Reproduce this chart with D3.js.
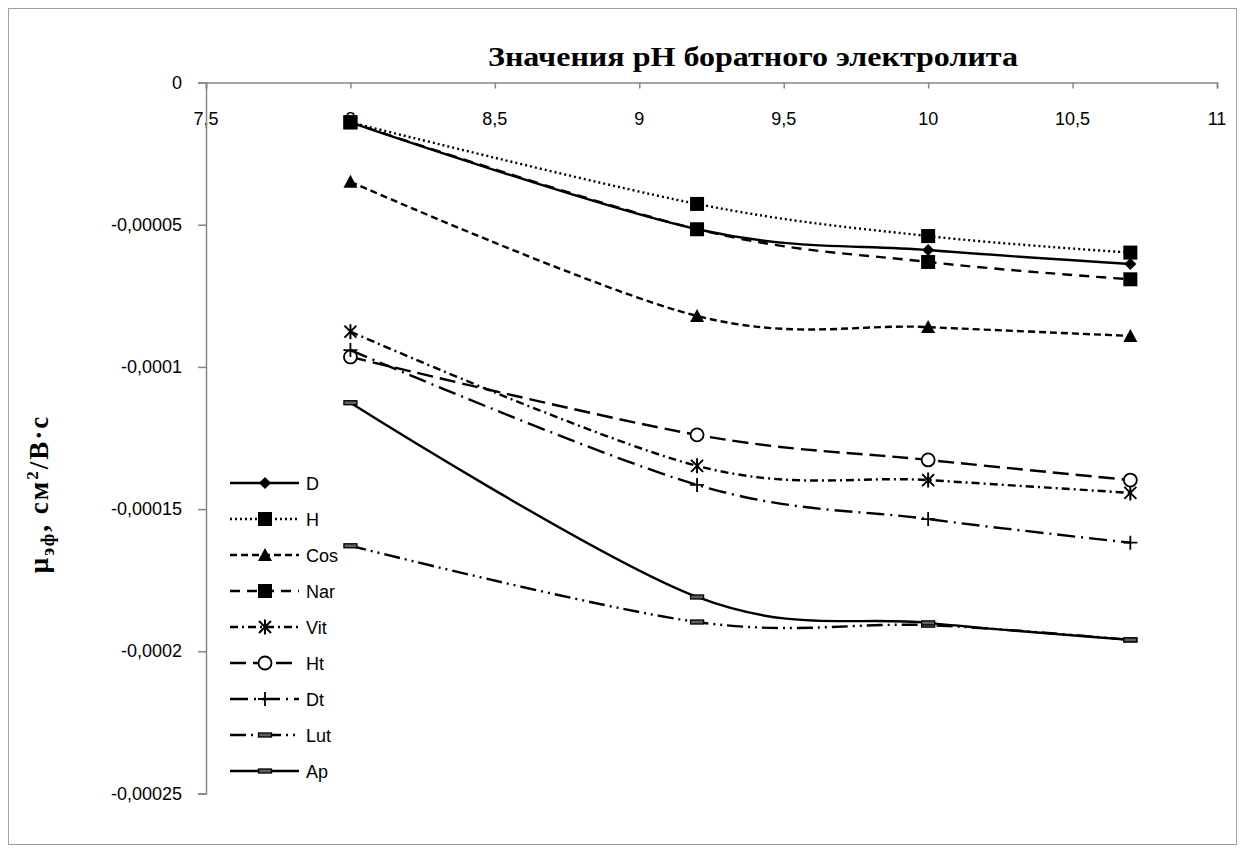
<!DOCTYPE html>
<html><head><meta charset="utf-8">
<script src="https://cdn.jsdelivr.net/npm/d3@7"></script>
<style>body{margin:0;background:#fff}svg{display:block}</style>
</head><body>
<script>
const xValues = [8, 9.2, 10, 10.7];
const seriesNames = ["D","H","Cos","Nar","Vit","Ht","Dt","Lut","Ap"];
const D   = [-1.40e-5, -5.16e-5, -5.89e-5, -6.38e-5];
const H   = [-1.40e-5, -4.27e-5, -5.40e-5, -5.98e-5];
const Cos = [-3.49e-5, -8.21e-5, -8.60e-5, -8.91e-5];
const Nar = [-1.40e-5, -5.16e-5, -6.31e-5, -6.92e-5];
const Vit = [-8.76e-5, -1.348e-4, -1.398e-4, -1.443e-4];
const Ht  = [-9.65e-5, -1.239e-4, -1.327e-4, -1.398e-4];
const Dt  = [-9.41e-5, -1.415e-4, -1.535e-4, -1.618e-4];
const Lut = [-1.629e-4, -1.897e-4, -1.908e-4, -1.960e-4];
const Ap  = [-1.126e-4, -1.809e-4, -1.900e-4, -1.960e-4];
const xTicks = [7.5, 8, 8.5, 9, 9.5, 10, 10.5, 11];
const yTicks = [0, -0.00005, -0.0001, -0.00015, -0.0002, -0.00025];
const yTickLabels = ["0","-0,00005","-0,0001","-0,00015","-0,0002","-0,00025"];
const titleText = "Значения рН боратного электролита";

const values = [D,H,Cos,Nar,Vit,Ht,Dt,Lut,Ap];
const styles = {
  D:{dash:null, marker:"diamond"},
  H:{dash:"2,3", marker:"square"},
  Cos:{dash:"7,4", marker:"triangle"},
  Nar:{dash:"10,7", marker:"square"},
  Vit:{dash:"8,4,2,4", marker:"asterisk"},
  Ht:{dash:"16,7", marker:"circle"},
  Dt:{dash:"18,6,2,6", marker:"plus"},
  Lut:{dash:"16,5,2,5,2,5", marker:"dash"},
  Ap:{dash:null, marker:"dash"}
};

const W=1244, H0=853;
const svg = d3.select("body").append("svg").attr("width",W).attr("height",H0);
svg.append("rect").attr("x",8.5).attr("y",8.5).attr("width",1228).attr("height",836)
  .attr("fill","#fff").attr("stroke","#a0a0a0").attr("stroke-width",1);

const x = d3.scaleLinear().domain([7.5,11]).range([206,1217]);
const y = d3.scaleLinear().domain([0,-0.00025]).range([82.5,793.5]);

const axisColor="#868686";
const gx = svg.append("g").attr("transform",`translate(0,${y(0)})`)
  .call(d3.axisBottom(x).tickValues(xTicks).tickSize(6).tickFormat(()=>""));
gx.select(".domain").attr("stroke",axisColor).attr("stroke-width",1.5);
gx.selectAll(".tick line").attr("stroke",axisColor).attr("stroke-width",1.5);
svg.append("g").selectAll("text").data(xTicks).join("text")
  .attr("x",d=>x(d)).attr("y",y(0)+42).attr("text-anchor","middle")
  .attr("font-family","Liberation Sans, Arial, sans-serif").attr("font-size",18)
  .text(d=>String(d).replace(".",","));

const gy = svg.append("g").attr("transform",`translate(${x(7.5)},0)`)
  .call(d3.axisLeft(y).tickValues(yTicks).tickSize(8).tickFormat(()=>""));
gy.select(".domain").attr("stroke",axisColor).attr("stroke-width",1.5);
gy.selectAll(".tick line").attr("stroke",axisColor).attr("stroke-width",1.5);
svg.append("g").selectAll("text").data(yTicks).join("text")
  .attr("x",x(7.5)-24).attr("y",d=>y(d)+6).attr("text-anchor","end")
  .attr("font-family","Liberation Sans, Arial, sans-serif").attr("font-size",18)
  .text((d,i)=>yTickLabels[i]);

svg.append("text").attr("x",753).attr("y",66).attr("text-anchor","middle")
  .attr("font-family","Liberation Serif, Times New Roman, serif").attr("font-weight","bold")
  .attr("font-size",27).attr("textLength",530).attr("lengthAdjust","spacingAndGlyphs")
  .text(titleText);

const yt = svg.append("text").attr("transform","translate(48,494) rotate(-90)")
  .attr("text-anchor","middle").attr("font-family","Liberation Serif, Times New Roman, serif")
  .attr("font-weight","bold").attr("font-size",27).attr("letter-spacing",2);
yt.append("tspan").text("μ");
yt.append("tspan").attr("font-size",18).attr("dy",6).text("эф");
yt.append("tspan").attr("dy",-6).text(", см");
yt.append("tspan").attr("font-size",17).attr("dy",-10).text("2");
yt.append("tspan").attr("dy",10).text("/В·с");

function drawMarker(g, type, cx, cy){
  const m = g.append("g").attr("transform",`translate(${cx},${cy})`);
  switch(type){
    case "diamond": m.append("path").attr("d","M0,-6L6,0L0,6L-6,0Z").attr("fill","#000"); break;
    case "square": m.append("rect").attr("x",-7).attr("y",-7).attr("width",14).attr("height",14).attr("fill","#000"); break;
    case "triangle": m.append("path").attr("d","M0,-7L7,6L-7,6Z").attr("fill","#000"); break;
    case "asterisk": m.append("path").attr("d","M-6,-6L6,6M-6,6L6,-6M0,-7.5L0,7.5")
      .attr("stroke","#000").attr("stroke-width",2).attr("fill","none"); break;
    case "circle": m.append("circle").attr("r",6.5).attr("fill","#fff").attr("stroke","#000").attr("stroke-width",1.8); break;
    case "plus": m.append("path").attr("d","M-7,0L7,0M0,-7L0,7")
      .attr("stroke","#000").attr("stroke-width",1.8).attr("fill","none"); break;
    case "dash": m.append("rect").attr("x",-6.5).attr("y",-2).attr("width",13).attr("height",4)
      .attr("fill","#606060").attr("stroke","#000").attr("stroke-width",1.3); break;
  }
}

const line = d3.line().x(d=>x(d[0])).y(d=>y(d[1])).curve(d3.curveCardinal.tension(0));
const gLines = svg.append("g");
seriesNames.forEach((name,i)=>{
  const pts = xValues.map((xv,j)=>[xv, values[i][j]]);
  const st = styles[name];
  gLines.append("path").attr("d",line(pts)).attr("fill","none").attr("stroke","#000")
    .attr("stroke-width",2.4).attr("stroke-dasharray",st.dash);
  pts.forEach(p=>drawMarker(gLines, st.marker, x(p[0]), y(p[1])));
});

const lg = svg.append("g");
seriesNames.forEach((name,i)=>{
  const ly = 483 + i*36;
  const st = styles[name];
  lg.append("line").attr("x1",230).attr("x2",299).attr("y1",ly).attr("y2",ly)
    .attr("stroke","#000").attr("stroke-width",2.4).attr("stroke-dasharray",st.dash);
  drawMarker(lg, st.marker, 265, ly);
  lg.append("text").attr("x",306).attr("y",ly+6.5)
    .attr("font-family","Liberation Sans, Arial, sans-serif").attr("font-size",18).text(name);
});
</script>
</body></html>
